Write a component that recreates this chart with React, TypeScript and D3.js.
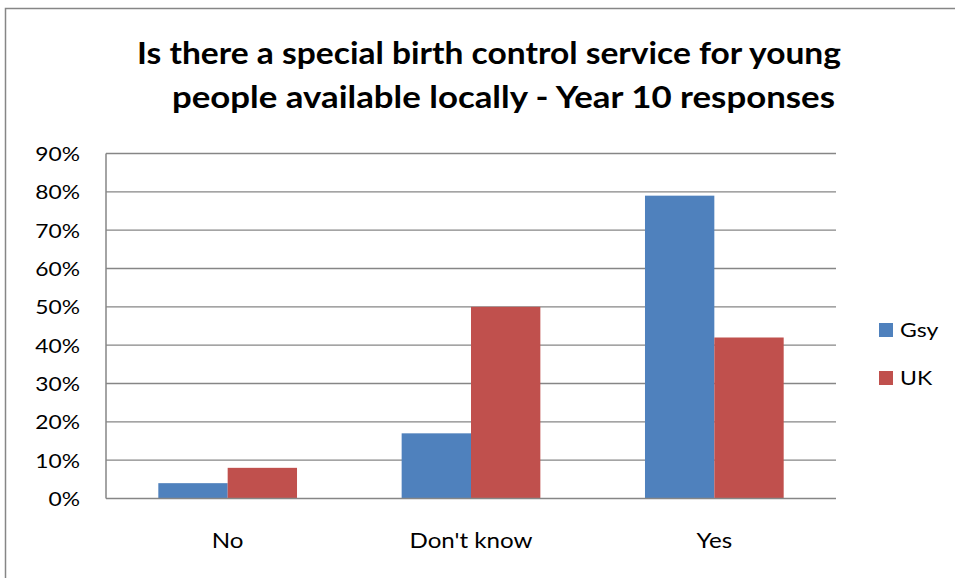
import React from "react";
import * as d3 from "d3";

const categories = ["No", "Don't know", "Yes"];
const seriesNames = ["Gsy", "UK"];
const gsyValues = [0.04, 0.17, 0.79];
const ukValues = [0.08, 0.5, 0.42];
const yTicks = [0, 0.1, 0.2, 0.3, 0.4, 0.5, 0.6, 0.7, 0.8, 0.9];
const titleLines = [
  "Is there a special birth control service for young",
  "people available locally - Year 10 responses",
];

const colors = ["#4F81BD", "#C0504D"];
const FONT = "Lato, 'Open Sans', 'Liberation Sans', sans-serif";

function SText({ x, y, sx, size, anchor, children }: any) {
  return (
    <text transform={`translate(${x},${y}) scale(${sx},1)`} textAnchor={anchor || "start"}
      fontFamily={FONT} fontSize={size} fill="#000">{children}</text>
  );
}

export default function App() {
  const W = 955, H = 578;
  const plot = { left: 106, right: 836, top: 153.5, bottom: 498.5 };
  const x0 = d3.scaleBand().domain(categories).range([plot.left, plot.right]).paddingInner(0.43).paddingOuter(0.215);
  const x1 = d3.scaleBand().domain(seriesNames).range([0, x0.bandwidth()]);
  const y = d3.scaleLinear().domain([0, 0.9]).range([plot.bottom, plot.top]);
  const fmt = d3.format(".0%");
  const series = [gsyValues, ukValues];

  return (
    <svg width={W} height={H} style={{ position: "absolute", left: 0, top: 0, background: "#fff" }}>
      <rect x={0} y={0} width={W} height={H} fill="#fff" />
      <rect x={5.5} y={8.5} width={W + 10} height={H + 10} fill="none" stroke="#868686" strokeWidth={1.5} />
      <text x={489} y={63.5} textAnchor="middle" fontFamily={FONT} fontWeight="bold" fontSize={30} fill="#000"
        textLength={704} lengthAdjust="spacingAndGlyphs">{titleLines[0]}</text>
      <text x={503.5} y={108} textAnchor="middle" fontFamily={FONT} fontWeight="bold" fontSize={30} fill="#000"
        textLength={663} lengthAdjust="spacingAndGlyphs">{titleLines[1]}</text>

      {yTicks.map((t) => (
        <g key={t}>
          {t > 0 && (
            <line x1={plot.left} x2={plot.right} y1={y(t)} y2={y(t)} stroke="#868686" strokeWidth={1.3} />
          )}
          <SText x={80} y={y(t) + 7.5} sx={1.2} size={19} anchor="end">{fmt(t)}</SText>
        </g>
      ))}

      {categories.map((c, i) => (
        <g key={c}>
          {series.map((vals, s) => (
            <rect key={s} x={(x0(c) ?? 0) + (x1(seriesNames[s]) ?? 0)} y={y(vals[i])}
              width={x1.bandwidth()} height={plot.bottom - y(vals[i])} fill={colors[s]} />
          ))}
          <SText x={(x0(c) ?? 0) + x0.bandwidth() / 2} y={548} sx={1.15} size={21} anchor="middle">{c}</SText>
        </g>
      ))}

      <line x1={plot.left} x2={plot.left} y1={plot.top} y2={plot.bottom} stroke="#868686" strokeWidth={1.5} />
      <line x1={plot.left} x2={plot.right} y1={plot.bottom} y2={plot.bottom} stroke="#868686" strokeWidth={1.5} />

      {seriesNames.map((s, i) => (
        <g key={s}>
          <rect x={879} y={323 + i * 48} width={14} height={14} fill={colors[i]} />
          <SText x={900} y={337 + i * 48} sx={1.18} size={19.5}>{s}</SText>
        </g>
      ))}
    </svg>
  );
}
